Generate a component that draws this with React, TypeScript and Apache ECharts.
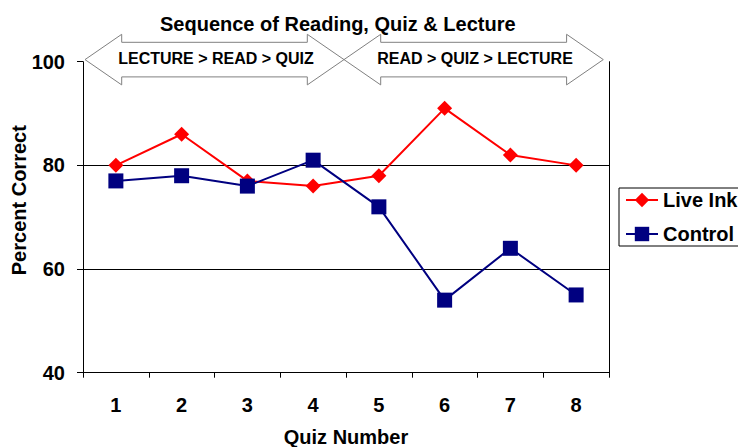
import React, { useEffect, useRef } from "react";
import * as echarts from "echarts";

const categories = ["1", "2", "3", "4", "5", "6", "7", "8"];
const liveInk = [80, 86, 77, 76, 78, 91, 82, 80];
const control = [77, 78, 76, 81, 72, 54, 64, 55];
const arrowLabels = ["LECTURE > READ > QUIZ", "READ > QUIZ > LECTURE"];

const FONT = '"Liberation Sans", Arial, sans-serif';

function arrowPoints(x0: number, x1: number, cy: number): number[][] {
  const head = 36.7;
  const hh = 25.3;
  const sh = 17.3;
  return [
    [x0, cy],
    [x0 + head, cy - hh],
    [x0 + head, cy - sh],
    [x1 - head, cy - sh],
    [x1 - head, cy - hh],
    [x1, cy],
    [x1 - head, cy + hh],
    [x1 - head, cy + sh],
    [x0 + head, cy + sh],
    [x0 + head, cy + hh],
  ];
}

export default function App() {
  const ref = useRef<HTMLDivElement>(null);
  useEffect(() => {
    if (!ref.current) return;
    const chart = echarts.init(ref.current, null, { renderer: "svg" });
    const cy = 59.6;
    const a1 = arrowPoints(85, 344, cy);
    const a2 = arrowPoints(344, 603.3, cy);
    chart.setOption({
      animation: false,
      backgroundColor: "#fff",
      textStyle: { fontFamily: FONT },
      title: {
        text: "Sequence of Reading, Quiz & Lecture",
        left: 155,
        top: 9,
        textStyle: { fontFamily: FONT, fontSize: 20, fontWeight: "bold", color: "#000" },
      },
      legend: {
        orient: "vertical",
        left: 619,
        top: 188,
        padding: [2, 30, 2, 6],
        itemGap: 14,
        itemWidth: 32,
        itemHeight: 18,
        borderColor: "#000",
        borderWidth: 1,
        textStyle: { fontFamily: FONT, fontSize: 20, fontWeight: "bold", color: "#000", lineHeight: 20 },
        data: ["Live Ink", "Control"],
      },
      grid: {
        left: 83,
        right: 129,
        top: 61.7,
        bottom: 74.3,
        containLabel: false,
        outerBoundsMode: "none",
      },
      xAxis: {
        type: "category",
        data: categories,
        boundaryGap: true,
        name: "Quiz Number",
        nameLocation: "middle",
        nameGap: 54,
        nameMoveOverlap: false,
        nameTextStyle: { fontFamily: FONT, fontSize: 20, fontWeight: "bold", color: "#000" },
        axisLine: { lineStyle: { color: "#000", width: 1 } },
        axisTick: { show: true, length: 5, lineStyle: { color: "#000" } },
        axisLabel: { margin: 22, fontFamily: FONT, fontSize: 20, fontWeight: "bold", color: "#000" },
      },
      yAxis: [
        {
          type: "value",
          min: 40,
          max: 100,
          interval: 20,
          name: "Percent Correct",
          nameLocation: "middle",
          nameGap: 54,
          nameMoveOverlap: false,
          nameTextStyle: {
            fontFamily: FONT,
            fontSize: 20,
            fontWeight: "bold",
            color: "#000",
            padding: [0, 0, 0, 34],
          },
          axisLine: { show: true, lineStyle: { color: "#000", width: 1 } },
          axisTick: { show: true, length: 6, lineStyle: { color: "#000" } },
          axisLabel: { margin: 18, fontFamily: FONT, fontSize: 20, fontWeight: "bold", color: "#000" },
          splitLine: {
            show: true,
            lineStyle: { color: ["rgba(0,0,0,0)", "#000", "#000", "rgba(0,0,0,0)"], width: 1 },
          },
        },
        {
          type: "value",
          min: 40,
          max: 100,
          interval: 20,
          position: "right",
          axisLine: { show: true, lineStyle: { color: "#000", width: 1 } },
          axisTick: { show: false },
          axisLabel: { show: false },
          splitLine: { show: false },
        },
      ],
      series: [
        {
          name: "Live Ink",
          type: "line",
          data: liveInk,
          symbol: "diamond",
          symbolSize: 15,
          color: "#ff0000",
          lineStyle: { color: "#ff0000", width: 2 },
          itemStyle: { color: "#ff0000" },
        },
        {
          name: "Control",
          type: "line",
          data: control,
          symbol: "rect",
          symbolSize: 15,
          color: "#000080",
          lineStyle: { color: "#000080", width: 2 },
          itemStyle: { color: "#000080" },
        },
      ],
      graphic: [
        {
          type: "polygon",
          shape: { points: a1 },
          style: { fill: "#fff", stroke: "#808080", lineWidth: 1 },
          z: 100,
        },
        {
          type: "polygon",
          shape: { points: a2 },
          style: { fill: "#fff", stroke: "#808080", lineWidth: 1 },
          z: 100,
        },
        {
          type: "text",
          x: 216,
          y: 58,
          z: 101,
          style: {
            text: arrowLabels[0],
            fontFamily: FONT,
            fontSize: 16,
            fontWeight: "bold",
            fill: "#000",
            align: "center",
            verticalAlign: "middle",
          },
        },
        {
          type: "text",
          x: 475,
          y: 58,
          z: 101,
          style: {
            text: arrowLabels[1],
            fontFamily: FONT,
            fontSize: 16,
            fontWeight: "bold",
            fill: "#000",
            align: "center",
            verticalAlign: "middle",
          },
        },
      ],
    });
    return () => chart.dispose();
  }, []);
  return <div ref={ref} style={{ width: 738, height: 447, position: "absolute", left: 0, top: 0 }} />;
}
